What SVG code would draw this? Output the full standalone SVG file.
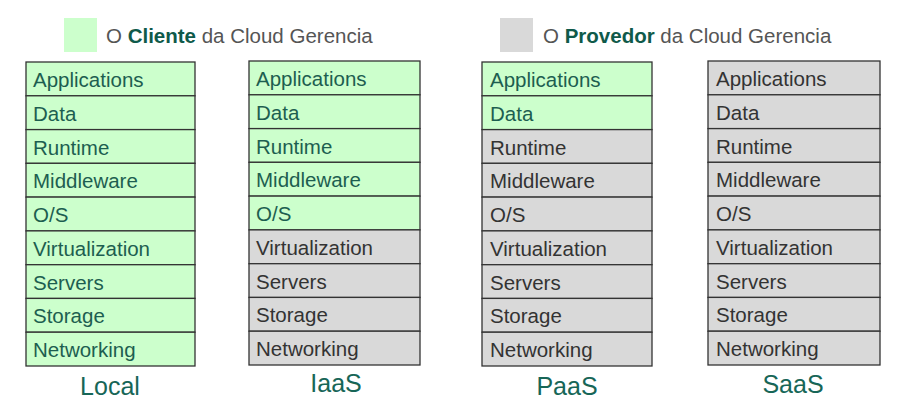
<svg xmlns="http://www.w3.org/2000/svg" width="906" height="418" viewBox="0 0 906 418">
<style>
.c{stroke:#333;stroke-width:1.3}
.g{fill:#ccffcc}
.p{fill:#d9d9d9}
text{font-family:"Liberation Sans",Arial,sans-serif}
.tg{font-size:20.5px;fill:#1d5e50}
.tp{font-size:20.5px;fill:#333}
.lbl{font-size:25px;fill:#176657;text-anchor:middle}
.leg{font-size:20.5px;fill:#555}
.b{fill:#0f5a4a;font-weight:bold}
</style>
<rect width="906" height="418" fill="#fff"/>
<g id="legend-cliente">
<rect x="64" y="18" width="33" height="34" fill="#ccffcc"/>
<text class="leg" x="106" y="43">O <tspan class="b">Cliente</tspan> da Cloud Gerencia</text>
</g>
<g id="legend-provedor">
<rect x="500" y="18" width="33" height="34" fill="#d9d9d9"/>
<text class="leg" x="543" y="43">O <tspan class="b">Provedor</tspan> da Cloud Gerencia</text>
</g>
<g id="local">
<rect class="c g" x="26" y="62" width="169" height="33.8"/>
<rect class="c g" x="26" y="95.8" width="169" height="33.8"/>
<rect class="c g" x="26" y="129.6" width="169" height="33.8"/>
<rect class="c g" x="26" y="163.3" width="169" height="33.8"/>
<rect class="c g" x="26" y="197.1" width="169" height="33.8"/>
<rect class="c g" x="26" y="230.9" width="169" height="33.8"/>
<rect class="c g" x="26" y="264.7" width="169" height="33.8"/>
<rect class="c g" x="26" y="298.4" width="169" height="33.8"/>
<rect class="c g" x="26" y="332.2" width="169" height="33.8"/>
<text class="tg" x="33" y="87">Applications</text>
<text class="tg" x="33" y="120.8">Data</text>
<text class="tg" x="33" y="154.6">Runtime</text>
<text class="tg" x="33" y="188.3">Middleware</text>
<text class="tg" x="33" y="222.1">O/S</text>
<text class="tg" x="33" y="255.9">Virtualization</text>
<text class="tg" x="33" y="289.7">Servers</text>
<text class="tg" x="33" y="323.4">Storage</text>
<text class="tg" x="33" y="357.2">Networking</text>
<text class="lbl" x="110" y="395">Local</text>
</g>
<g id="iaas">
<rect class="c g" x="249" y="61" width="171" height="33.8"/>
<rect class="c g" x="249" y="94.8" width="171" height="33.8"/>
<rect class="c g" x="249" y="128.6" width="171" height="33.8"/>
<rect class="c g" x="249" y="162.3" width="171" height="33.8"/>
<rect class="c g" x="249" y="196.1" width="171" height="33.8"/>
<rect class="c p" x="249" y="229.9" width="171" height="33.8"/>
<rect class="c p" x="249" y="263.7" width="171" height="33.8"/>
<rect class="c p" x="249" y="297.4" width="171" height="33.8"/>
<rect class="c p" x="249" y="331.2" width="171" height="33.8"/>
<text class="tg" x="256" y="86">Applications</text>
<text class="tg" x="256" y="119.8">Data</text>
<text class="tg" x="256" y="153.6">Runtime</text>
<text class="tg" x="256" y="187.3">Middleware</text>
<text class="tg" x="256" y="221.1">O/S</text>
<text class="tp" x="256" y="254.9">Virtualization</text>
<text class="tp" x="256" y="288.7">Servers</text>
<text class="tp" x="256" y="322.4">Storage</text>
<text class="tp" x="256" y="356.2">Networking</text>
<text class="lbl" x="336" y="392">IaaS</text>
</g>
<g id="paas">
<rect class="c g" x="482" y="62" width="170" height="33.8"/>
<rect class="c g" x="482" y="95.8" width="170" height="33.8"/>
<rect class="c p" x="482" y="129.6" width="170" height="33.8"/>
<rect class="c p" x="482" y="163.3" width="170" height="33.8"/>
<rect class="c p" x="482" y="197.1" width="170" height="33.8"/>
<rect class="c p" x="482" y="230.9" width="170" height="33.8"/>
<rect class="c p" x="482" y="264.7" width="170" height="33.8"/>
<rect class="c p" x="482" y="298.4" width="170" height="33.8"/>
<rect class="c p" x="482" y="332.2" width="170" height="33.8"/>
<text class="tg" x="490" y="87">Applications</text>
<text class="tg" x="490" y="120.8">Data</text>
<text class="tp" x="490" y="154.6">Runtime</text>
<text class="tp" x="490" y="188.3">Middleware</text>
<text class="tp" x="490" y="222.1">O/S</text>
<text class="tp" x="490" y="255.9">Virtualization</text>
<text class="tp" x="490" y="289.7">Servers</text>
<text class="tp" x="490" y="323.4">Storage</text>
<text class="tp" x="490" y="357.2">Networking</text>
<text class="lbl" x="567" y="395">PaaS</text>
</g>
<g id="saas">
<rect class="c p" x="708" y="61" width="172" height="33.8"/>
<rect class="c p" x="708" y="94.8" width="172" height="33.8"/>
<rect class="c p" x="708" y="128.6" width="172" height="33.8"/>
<rect class="c p" x="708" y="162.3" width="172" height="33.8"/>
<rect class="c p" x="708" y="196.1" width="172" height="33.8"/>
<rect class="c p" x="708" y="229.9" width="172" height="33.8"/>
<rect class="c p" x="708" y="263.7" width="172" height="33.8"/>
<rect class="c p" x="708" y="297.4" width="172" height="33.8"/>
<rect class="c p" x="708" y="331.2" width="172" height="33.8"/>
<text class="tp" x="716" y="86">Applications</text>
<text class="tp" x="716" y="119.8">Data</text>
<text class="tp" x="716" y="153.6">Runtime</text>
<text class="tp" x="716" y="187.3">Middleware</text>
<text class="tp" x="716" y="221.1">O/S</text>
<text class="tp" x="716" y="254.9">Virtualization</text>
<text class="tp" x="716" y="288.7">Servers</text>
<text class="tp" x="716" y="322.4">Storage</text>
<text class="tp" x="716" y="356.2">Networking</text>
<text class="lbl" x="793" y="393">SaaS</text>
</g>
<g id="connectors"></g>
</svg>
